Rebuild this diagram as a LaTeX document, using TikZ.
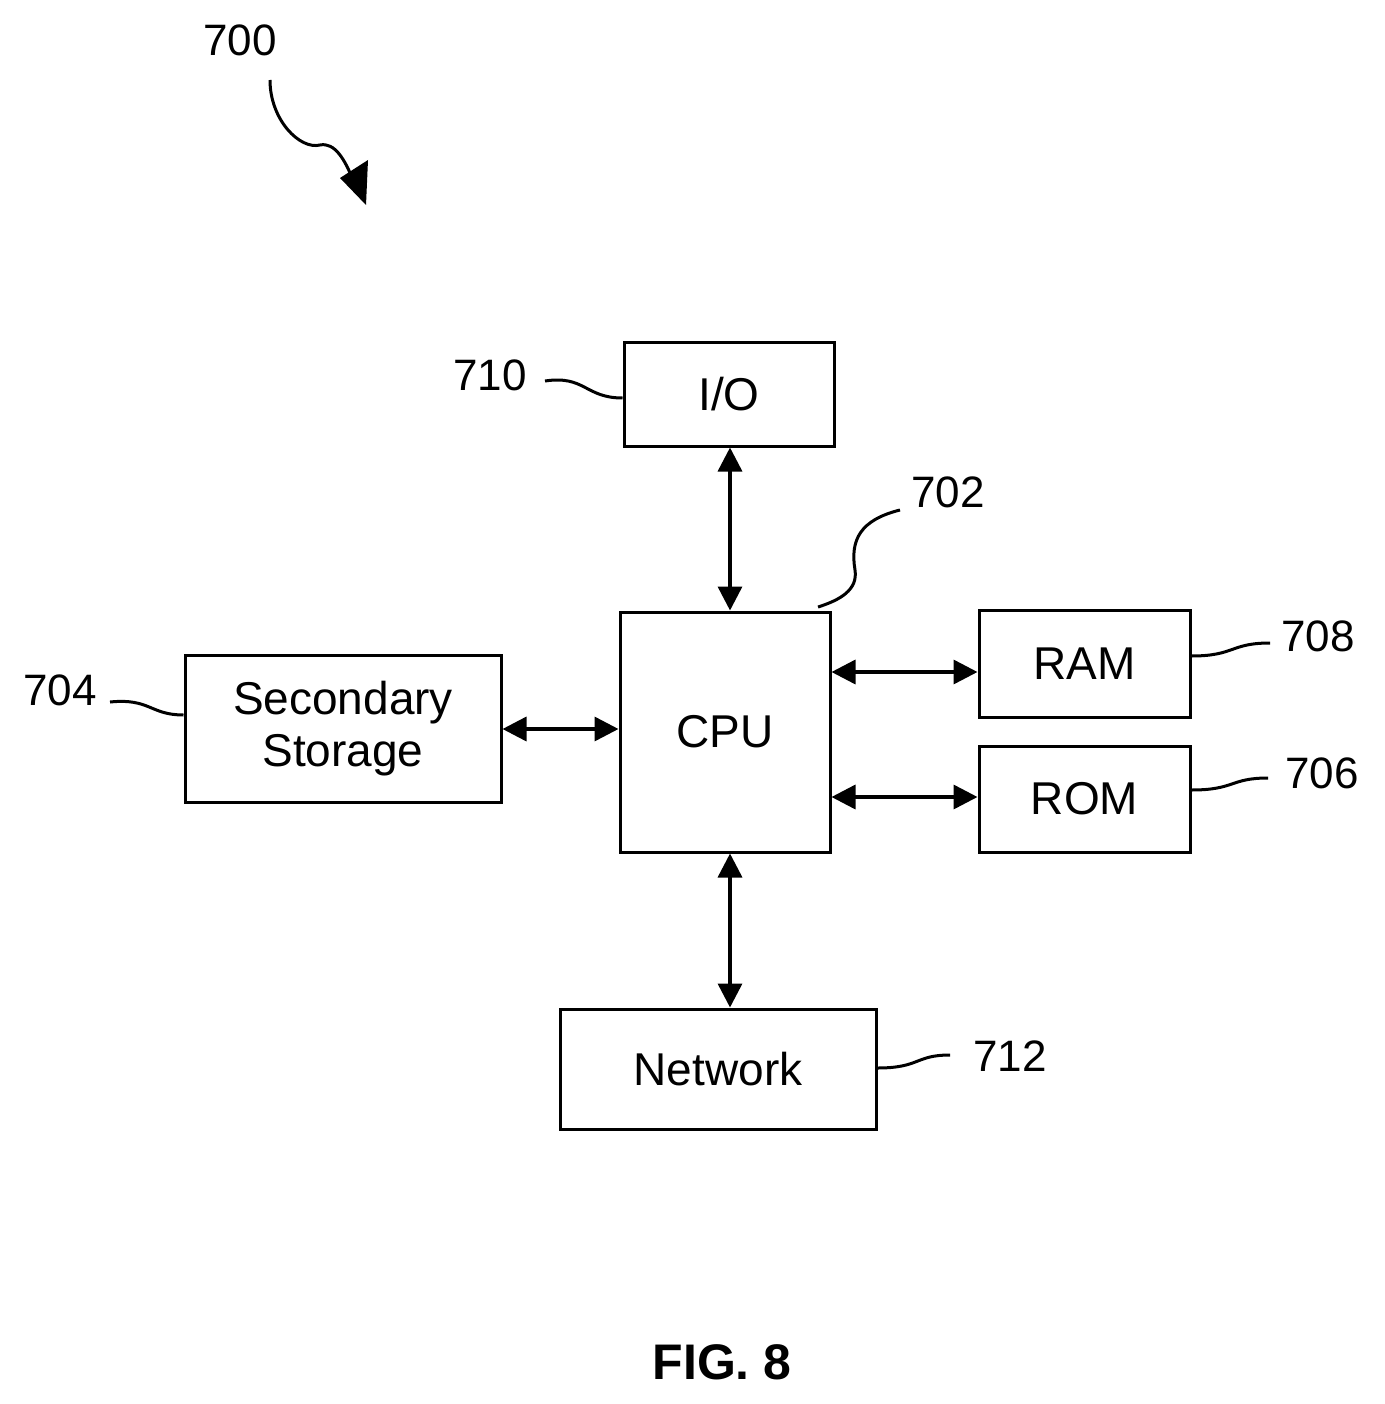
\documentclass[tikz,border=0pt]{standalone}
\usepackage{fontspec}
\setmainfont{Liberation Sans}
\usetikzlibrary{arrows.meta}
\begin{document}
\begin{tikzpicture}[x=1pt,y=-1pt,
 box/.style={draw,line width=3pt,inner sep=0pt,font=\fontsize{46}{52}\selectfont,align=center},
 num/.style={font=\fontsize{44}{50}\selectfont},
 lead/.style={line width=3pt},
 dbl/.style={line width=3.5pt,{Triangle[length=24pt,width=24pt]}-{Triangle[length=24pt,width=24pt]}}]
\useasboundingbox (0,0) rectangle (1384,1404);
\node[box,minimum width=210pt,minimum height=104pt] (io) at (729,394) {I/O};
\node[box,minimum width=210pt,minimum height=240pt] (cpu) at (725,732) {CPU};
\node[box,minimum width=211pt,minimum height=107pt] (ram) at (1084.5,663.5) {RAM};
\node[box,minimum width=211pt,minimum height=106pt] (rom) at (1084.5,799) {ROM};
\node[box,minimum width=316pt,minimum height=147pt] (sec) at (343,728.5) {Secondary\\Storage};
\node[box,minimum width=316pt,minimum height=120pt] (net) at (718,1069) {Network};
\draw[dbl] (io.south -| 730,0) -- (cpu.north -| 730,0);
\draw[dbl] (cpu.south -| 730,0) -- (net.north -| 730,0);
\draw[dbl] (cpu.east |- 0,672) -- (ram.west |- 0,672);
\draw[dbl] (cpu.east |- 0,797) -- (rom.west |- 0,797);
\draw[dbl] (sec.east |- 0,729) -- (cpu.west |- 0,729);
\node[num] (n700) at (240,40) {700};
\node[num] (n710) at (490,375) {710};
\node[num] (n702) at (948,492) {702};
\node[num] (n708) at (1318,636) {708};
\node[num] (n704) at (60,690) {704};
\node[num] (n706) at (1322,773) {706};
\node[num] (n712) at (1010,1056) {712};
\node[font=\bfseries\fontsize{50}{56}\selectfont] (fig) at (722,1362) {FIG. 8};
\coordinate (a1) at (270,80);
\coordinate (a2) at (353,180);
\draw[lead] (a1) .. controls (270,120) and (300,150) .. (320,145) .. controls (335,142) and (345,160) .. (a2);
\fill (340,178) -- (368,160) -- (366,205) -- cycle;
\draw[lead] (545,381) .. controls (585,375) and (585,398) .. (io.west |- 0,398);
\draw[lead] (900,510) .. controls (860,520) and (850,540) .. (855,570) .. controls (858,590) and (840,600) .. (818,607);
\draw[lead] (110,702) .. controls (150,698) and (150,715) .. (sec.west |- 0,715);
\draw[lead] (ram.east |- 0,656) .. controls (1235,656) and (1230,643) .. (1270,643);
\draw[lead] (rom.east |- 0,790) .. controls (1235,790) and (1230,778) .. (1268,778);
\draw[lead] (net.east |- 0,1068) .. controls (920,1068) and (915,1055) .. (950,1055);
\end{tikzpicture}
\end{document}
